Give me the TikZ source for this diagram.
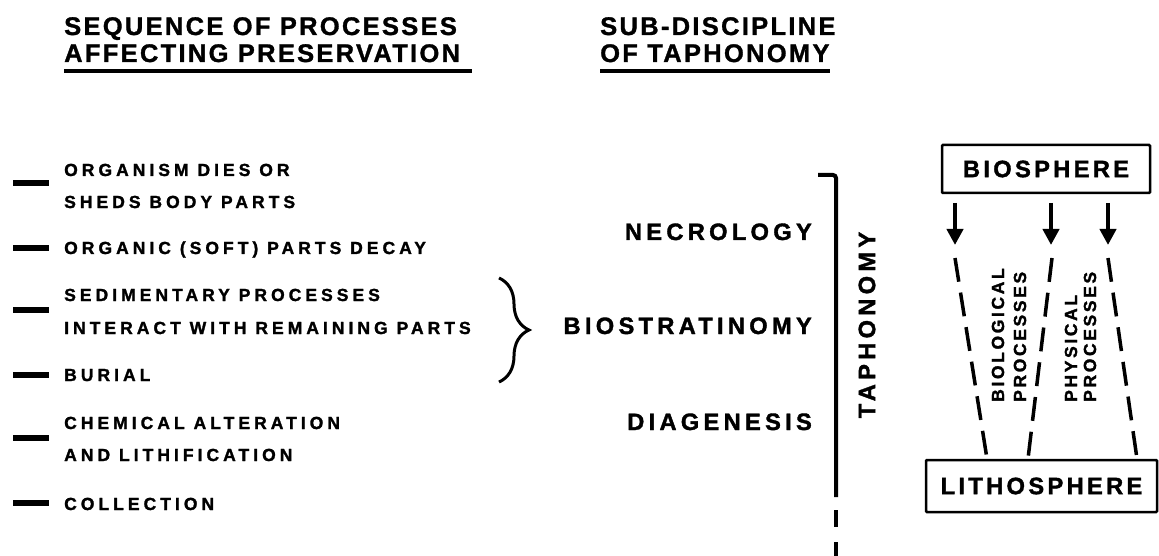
\documentclass[tikz,border=0pt]{standalone}
\usepackage{fontspec}
\setmainfont{Liberation Sans}
\newfontfamily\headfont[UprightFont={* Bold}, FakeBold=1.2, LetterSpace=9]{Liberation Sans}
\newfontfamily\itemfont[UprightFont={* Bold}, FakeBold=1.5, LetterSpace=23]{Liberation Sans}
\newfontfamily\subfont[UprightFont={* Bold}, FakeBold=1.5, LetterSpace=18]{Liberation Sans}
\newfontfamily\boxfont[UprightFont={* Bold}, FakeBold=1.5, LetterSpace=14]{Liberation Sans}
\newfontfamily\smallfont[UprightFont={* Bold}, FakeBold=1.5, LetterSpace=15]{Liberation Sans}
\usetikzlibrary{arrows.meta,decorations.pathreplacing}
\begin{document}
\begin{tikzpicture}[x=1pt,y=-1pt,
  head/.style={font=\headfont\fontsize{25.5}{30}\selectfont, anchor=base west, inner sep=0pt},
  item/.style={font=\itemfont\fontsize{17.5}{20}\selectfont, anchor=base west, inner sep=0pt},
  sub/.style={font=\subfont\fontsize{23.7}{28}\selectfont, anchor=base east, inner sep=0pt},
  tick/.style={line width=6pt},
  rulebar/.style={line width=4pt},
  sphere/.style={draw, line width=2.5pt, font=\boxfont\fontsize{23.7}{28}\selectfont, inner sep=0pt, rounded corners=1pt},
  proc/.style={font=\smallfont\fontsize{17.5}{20}\selectfont, rotate=90, anchor=base west, inner sep=0pt},
  flow/.style={line width=4pt, -{Triangle[width=16pt,length=16pt]}},
  pathway/.style={line width=3.5pt, dash pattern=on 24pt off 11pt}
]
\useasboundingbox (0,0) rectangle (1159,556);

% headings
\node[head] (h1a) at (64,35) {SEQUENCE OF PROCESSES};
\node[head] (h1b) at (64,62) {AFFECTING PRESERVATION};
\draw[rulebar] (64,71) -- (472,71);
\node[head] (h2a) at (600,35) {SUB-DISCIPLINE};
\node[head] (h2b) at (600,62) {OF TAPHONOMY};
\draw[rulebar] (600,71) -- (h2b.east |- 0,71);

% process items
\node[item] (i1a) at (64,176) {ORGANISM DIES OR};
\node[item] (i1b) at (64,208) {SHEDS BODY PARTS};
\node[item] (i2) at (64,254) {ORGANIC (SOFT) PARTS DECAY};
\node[item] (i3a) at (64,301) {SEDIMENTARY PROCESSES};
\node[item] (i3b) at (64,334) {INTERACT WITH REMAINING PARTS};
\node[item] (i4) at (64,381) {BURIAL};
\node[item] (i5a) at (64,429) {CHEMICAL ALTERATION};
\node[item] (i5b) at (64,461) {AND LITHIFICATION};
\node[item] (i6) at (64,510) {COLLECTION};
\foreach \y in {183,248,310,375,438,503}
  \draw[tick] (13,\y) -- (49,\y);

% brace
\draw[line width=3pt, decorate, decoration={brace, amplitude=30pt}] (499,278) -- (499,382);

% sub-disciplines
\node[sub] (n1) at (812,240) {NECROLOGY};
\node[sub] (n2) at (812,334) {BIOSTRATINOMY};
\node[sub] (n3) at (812,430) {DIAGENESIS};

% taphonomy bar
\draw[rulebar, rounded corners=3pt] (818,175) -- (836,175) -- (836,497);
\draw[rulebar] (836,510) -- (836,527);
\draw[rulebar] (836,542) -- (836,556);
\node[font=\subfont\fontsize{23.7}{28}\selectfont, rotate=90, inner sep=0pt] (tap) at (867,325) {TAPHONOMY};

% spheres
\node[sphere, minimum width=208pt, minimum height=48pt] (B) at (1046,169) {BIOSPHERE};
\node[sphere, minimum width=231pt, minimum height=52pt] (L) at (1041.5,486) {LITHOSPHERE};

\coordinate (a1s) at (955,203); \coordinate (a1e) at (955,245);
\coordinate (a2s) at (1051,203); \coordinate (a2e) at (1051,245);
\coordinate (a3s) at (1108,203); \coordinate (a3e) at (1108,245);
\draw[flow] (a1s) -- (a1e);
\draw[flow] (a2s) -- (a2e);
\draw[flow] (a3s) -- (a3e);

\coordinate (d1) at (955,258); \coordinate (e1) at (987,460);
\coordinate (d2) at (1052,258); \coordinate (e2) at (1028,460);
\coordinate (d3) at (1108,258); \coordinate (e3) at (1137,460);
\draw[pathway] (d1) -- (e1 |- L.north);
\draw[pathway] (d2) -- (e2 |- L.north);
\draw[pathway] (d3) -- (e3 |- L.north);

\node[proc] (p1) at (1004,402) {BIOLOGICAL};
\node[proc] (p2) at (1026,402) {PROCESSES};
\node[proc] (p3) at (1077,402) {PHYSICAL};
\node[proc] (p4) at (1096,402) {PROCESSES};
\end{tikzpicture}
\end{document}
